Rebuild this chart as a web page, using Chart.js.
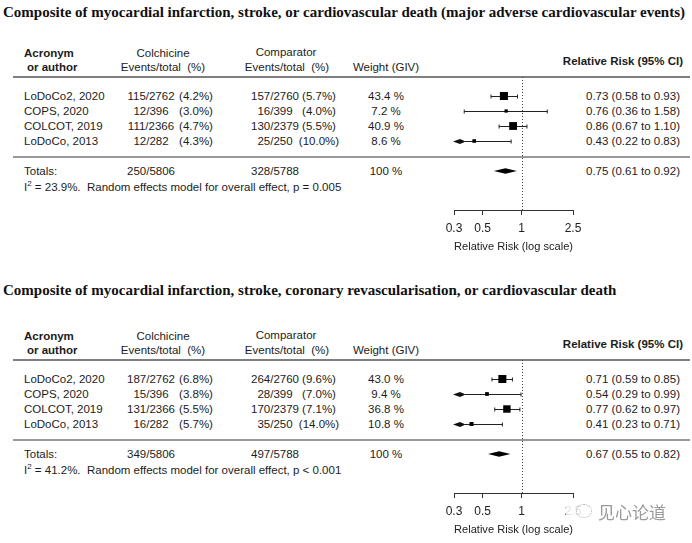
<!DOCTYPE html>
<html>
<head>
<meta charset="utf-8">
<script src="https://cdn.jsdelivr.net/npm/chart.js@4.4.1/dist/chart.umd.min.js"></script>
<style>
  body { margin: 0; background: #fff; }
  #page { position: relative; width: 692px; height: 543px; overflow: hidden;
          font-family: "Liberation Sans", Arial, sans-serif; font-size: 11.5px; color: #1c1c1c; }
  .t { position: absolute; white-space: pre; line-height: 14px; }
  .c { transform: translateX(-50%); }
  .r { transform: translateX(-100%); }
  .b { font-weight: bold; }
  .title { font-family: "Liberation Serif", "Times New Roman", serif; font-weight: bold; font-size: 15px; line-height: 16px; color: #111; }
  canvas { position: absolute; left: 0; }
  .wm { position: absolute; font-family: "Noto Sans CJK SC", sans-serif; font-size: 17px; color: #9a9a9a; line-height: 20px; }
</style>
</head>
<body>
<div id="page"></div>
<script>
// shared
var studies = ["LoDoCo2, 2020", "COPS, 2020", "COLCOT, 2019", "LoDoCo, 2013"];
var tickValues = [0.3, 0.5, 1, 2.5];

// section 1 - MACE
var maceTitle = "Composite of myocardial infarction, stroke, or cardiovascular death (major adverse cardiovascular events)";
var maceColEvents = [115, 12, 111, 12];
var maceColTotal = [2762, 396, 2366, 282];
var maceCmpEvents = [157, 16, 130, 25];
var maceCmpTotal = [2760, 399, 2379, 250];
var maceWeight = [43.4, 7.2, 40.9, 8.6];
var maceRR = [0.73, 0.76, 0.86, 0.43];
var maceLow = [0.58, 0.36, 0.67, 0.22];
var maceHigh = [0.93, 1.58, 1.10, 0.83];
var macePooled = [0.75, 0.61, 0.92];
var maceI2 = "23.9";
var maceP = "p = 0.005";

// section 2 - MACE + coronary revascularisation
var revTitle = "Composite of myocardial infarction, stroke, coronary revascularisation, or cardiovascular death";
var revColEvents = [187, 15, 131, 16];
var revColTotal = [2762, 396, 2366, 282];
var revCmpEvents = [264, 28, 170, 35];
var revCmpTotal = [2760, 399, 2379, 250];
var revWeight = [43.0, 9.4, 36.8, 10.8];
var revRR = [0.71, 0.54, 0.77, 0.41];
var revLow = [0.59, 0.29, 0.62, 0.23];
var revHigh = [0.85, 0.99, 0.97, 0.71];
var revPooled = [0.67, 0.55, 0.82];
var revI2 = "41.2";
var revP = "p < 0.001";

var page = document.getElementById("page");

function txt(s, x, y, cls, html) {
  var d = document.createElement("div");
  d.className = "t " + (cls || "");
  if (html) d.innerHTML = s; else d.textContent = s;
  d.style.left = x + "px";
  d.style.top = (y - 7) + "px";
  page.appendChild(d);
  return d;
}
function sum(a) { return a.reduce(function(p, v) { return p + v; }, 0); }
function pct(e, n) { return "(" + (100 * e / n).toFixed(1) + "%)"; }
function ci(v) { return v[0].toFixed(2) + " (" + v[1].toFixed(2) + " to " + v[2].toFixed(2) + ")"; }

function section(base, titleY, d) {
  var t = txt(d.title, 3, titleY, "title");
  t.style.top = (titleY - 8) + "px";

  txt("Acronym", 24, base + 53, "b");
  txt("or author", 27, base + 67, "b");
  txt("Colchicine", 163, base + 53, "c");
  txt("Events/total  (%)", 163, base + 67, "c");
  txt("Comparator", 286, base + 52, "c");
  txt("Events/total  (%)", 287, base + 67, "c");
  txt("Weight (GIV)", 386, base + 67, "c");
  txt("Relative Risk (95% CI)", 683, base + 61, "b r");

  for (var i = 0; i < studies.length; i++) {
    var y = base + 96 + 15 * i;
    txt(studies[i], 24, y);
    txt(d.colE[i] + "/" + d.colN[i], 151, y, "c");
    txt(pct(d.colE[i], d.colN[i]), 196, y, "c");
    txt(d.cmpE[i] + "/" + d.cmpN[i], 275, y, "c");
    txt(pct(d.cmpE[i], d.cmpN[i]), 319, y, "c");
    txt(d.w[i].toFixed(1) + " %", 386, y, "c");
    txt(ci([d.rr[i], d.lo[i], d.hi[i]]), 586, y);
  }
  txt("Totals:", 24, base + 171);
  txt(sum(d.colE) + "/" + sum(d.colN), 151, base + 171, "c");
  txt(sum(d.cmpE) + "/" + sum(d.cmpN), 275, base + 171, "c");
  txt("100 %", 386, base + 171, "c");
  txt(ci(d.pooled), 586, base + 171);
  txt("I<sup style='font-size:8px;line-height:0'>2</sup> = " + d.i2 + "%.  Random effects model for overall effect, " + d.p, 24, base + 187, "", true);

  // chart: plot area from header rule (base+77) down to the axis (base+210)
  var cv = document.createElement("canvas");
  cv.width = 692; cv.height = 190;
  cv.style.top = (base + 70) + "px";
  page.appendChild(cv);

  var yMin = (77 - 96) / 15, yMax = (210 - 96) / 15, ySep = (157 - 96) / 15, yTot = (171 - 96) / 15;

  var forest = {
    id: "forest",
    beforeDatasetsDraw: function(chart) {
      var ctx = chart.ctx, xs = chart.scales.x, ys = chart.scales.y, a = chart.chartArea;
      ctx.save();
      // header rule and totals separator
      ctx.strokeStyle = "#555"; ctx.lineWidth = 1.6;
      ctx.beginPath(); ctx.moveTo(13, a.top); ctx.lineTo(690, a.top); ctx.stroke();
      ctx.strokeStyle = "#777"; ctx.lineWidth = 1.4;
      var sy = ys.getPixelForValue(ySep);
      ctx.beginPath(); ctx.moveTo(13, sy); ctx.lineTo(690, sy); ctx.stroke();
      // line of no effect
      ctx.strokeStyle = "#444"; ctx.lineWidth = 1; ctx.setLineDash([1, 2]);
      var x1 = Math.round(xs.getPixelForValue(1)) + 0.5;
      ctx.beginPath(); ctx.moveTo(x1, a.top); ctx.lineTo(x1, a.bottom); ctx.stroke();
      ctx.setLineDash([]);
      // confidence intervals
      ctx.strokeStyle = "#222"; ctx.fillStyle = "#111"; ctx.lineWidth = 1;
      for (var i = 0; i < d.rr.length; i++) {
        var py = Math.round(ys.getPixelForValue(i)) + 0.5;
        var lo = Math.max(d.lo[i], xs.min), hi = Math.min(d.hi[i], xs.max);
        var pl = xs.getPixelForValue(lo), ph = xs.getPixelForValue(hi);
        ctx.beginPath(); ctx.moveTo(pl, py); ctx.lineTo(ph, py); ctx.stroke();
        if (d.lo[i] < xs.min) {
          ctx.beginPath();
          ctx.moveTo(pl - 1, py); ctx.lineTo(pl + 6, py - 2.6); ctx.lineTo(pl + 10, py - 0.8);
          ctx.lineTo(pl + 10, py + 0.8); ctx.lineTo(pl + 6, py + 2.6); ctx.closePath(); ctx.fill();
        } else {
          ctx.beginPath(); ctx.moveTo(pl, py - 2); ctx.lineTo(pl, py + 2); ctx.stroke();
        }
        if (d.hi[i] <= xs.max) {
          ctx.beginPath(); ctx.moveTo(ph, py - 2); ctx.lineTo(ph, py + 2); ctx.stroke();
        }
      }
      // pooled diamond
      var ty = ys.getPixelForValue(yTot);
      ctx.beginPath();
      ctx.moveTo(xs.getPixelForValue(d.pooled[1]), ty);
      ctx.lineTo(xs.getPixelForValue(d.pooled[0]), ty - 2.8);
      ctx.lineTo(xs.getPixelForValue(d.pooled[2]), ty);
      ctx.lineTo(xs.getPixelForValue(d.pooled[0]), ty + 2.8);
      ctx.closePath(); ctx.fillStyle = "#000"; ctx.fill();
      ctx.restore();
    }
  };

  new Chart(cv, {
    type: "scatter",
    data: {
      datasets: [{
        data: d.rr.map(function(v, i) { return { x: v, y: i }; }),
        pointStyle: "rect",
        pointRadius: d.w.map(function(w) { return 5.7 * Math.sqrt(w / 43.4); }),
        pointBorderWidth: 0,
        backgroundColor: "#000",
        borderColor: "#000"
      }]
    },
    options: {
      responsive: false,
      animation: false,
      events: [],
      layout: { padding: { left: 454, right: 119, top: 7, bottom: 0 } },
      plugins: { legend: { display: false }, tooltip: { enabled: false } },
      scales: {
        x: {
          type: "logarithmic",
          min: 0.3, max: 2.5,
          afterBuildTicks: function(s) { s.ticks = tickValues.map(function(v) { return { value: v }; }); },
          afterFit: function(s) { s.height = 50; },
          grid: { drawOnChartArea: false, drawTicks: true, tickLength: 5, color: "#333", lineWidth: 1 },
          border: { display: true, color: "#333", width: 1 },
          ticks: { padding: 6, color: "#222", font: { family: "Liberation Sans", size: 12 },
                   maxRotation: 0, autoSkip: false, callback: function(v) { return String(v); } },
          title: { display: true, text: "Relative Risk (log scale)", color: "#222",
                   font: { family: "Liberation Sans", size: 11.5 }, padding: { top: 0, bottom: 6 } }
        },
        y: { type: "linear", reverse: true, min: yMin, max: yMax, display: false }
      }
    },
    plugins: [forest]
  });
}

section(0, 12, {
  title: maceTitle, colE: maceColEvents, colN: maceColTotal, cmpE: maceCmpEvents, cmpN: maceCmpTotal,
  w: maceWeight, rr: maceRR, lo: maceLow, hi: maceHigh, pooled: macePooled, i2: maceI2, p: maceP
});
section(283, 290, {
  title: revTitle, colE: revColEvents, colN: revColTotal, cmpE: revCmpEvents, cmpN: revCmpTotal,
  w: revWeight, rr: revRR, lo: revLow, hi: revHigh, pooled: revPooled, i2: revI2, p: revP
});

// watermark overlay (bottom right)
var wbg = document.createElement("div");
wbg.style.cssText = "position:absolute;left:566px;top:501px;width:120px;height:24px;background:rgba(255,255,255,0.85);";
page.appendChild(wbg);
var wic = document.createElement("div");
wic.style.cssText = "position:absolute;left:576px;top:504px;width:14px;height:12px;border:1.5px dotted #aaa;border-radius:50%;";
page.appendChild(wic);
var wt = document.createElement("div");
wt.className = "wm";
wt.textContent = "见心论道";
wt.style.left = "598px"; wt.style.top = "502px";
page.appendChild(wt);
</script>
</body>
</html>
